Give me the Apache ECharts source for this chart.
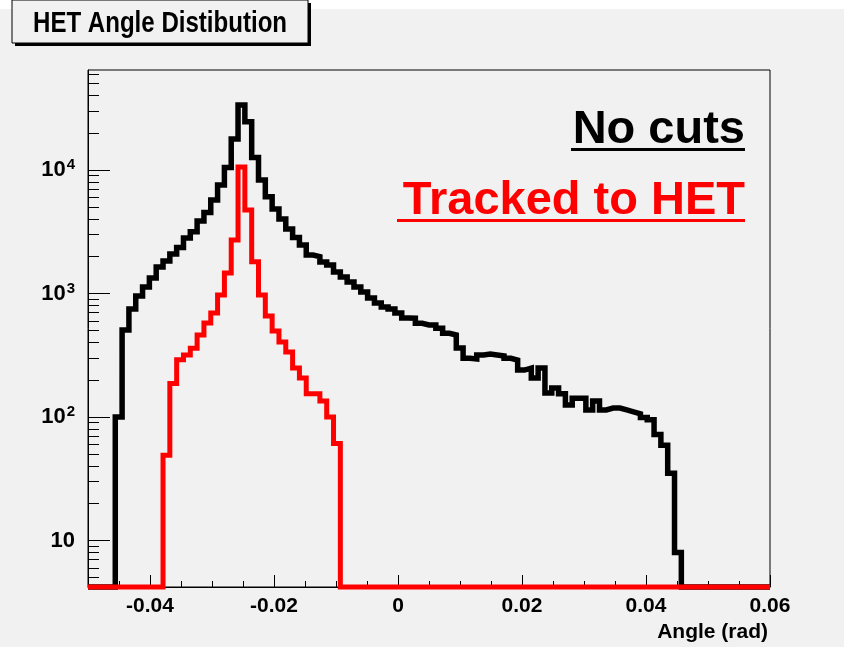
<!DOCTYPE html>
<html><head><meta charset="utf-8">
<script src="https://cdn.jsdelivr.net/npm/echarts@6/dist/echarts.min.js"></script>
<style>html,body{margin:0;padding:0;background:#fff}#c{width:844px;height:647px}</style>
</head><body><div id="c"></div><script>
// Histogram definition (ROOT-style TH1: 100 bins from -0.05 to 0.06)
const histMin = -0.05, histMax = 0.06, nBins = 100;

// "No cuts" counts, starting at bin index 4
const noCutsFirstBin = 4;
const noCutsCounts = [100, 506, 749, 954, 1129, 1335, 1639, 1833, 2088, 2358, 2814, 3166, 3864, 4528, 5717, 7560, 10477, 17820, 33600, 24600, 12620, 8300, 6078, 4832, 4011, 3329, 2840, 2470, 2050, 1986, 1799, 1701, 1493, 1360, 1239, 1129, 1028, 919, 838, 778, 749, 695, 633, 630, 574, 556, 556, 523, 476, 461, 362, 299, 295, 318, 324, 318, 312, 299, 289, 240, 249, 207, 249, 156, 172, 154, 125, 142, 142, 114, 135, 114, 118, 118, 114, 110, 106, 99, 95, 72, 59, 35, 8];

// "Tracked to HET" counts, starting at bin index 11
const trackedFirstBin = 11;
const trackedCounts = [49, 187, 290, 318, 360, 461, 577, 695, 972, 1465, 2712, 10570, 4742, 1808, 972, 658, 497, 405, 336, 249, 207, 154, 154, 135, 100, 61];

// Axis ticks and labels
const xMajorTicks = [-0.04, -0.02, 0, 0.02, 0.04, 0.06];
const xTickLabels = ['-0.04', '-0.02', '0', '0.02', '0.04', '0.06'];
const xMinorTicks = [-0.045, -0.035, -0.03, -0.025, -0.015, -0.01, -0.005, 0.005, 0.01, 0.015, 0.025, 0.03, 0.035, 0.045, 0.05, 0.055];
const yMin = 4.2, yMax = 64500;
const yMajorTicks = [10, 100, 1000, 10000];
const yTickLabels = ['{b|10}', '{b|10}{s|2}', '{b|10}{s|3}', '{b|10}{s|4}'];
const yMinorTicks = [5, 6, 7, 8, 9, 20, 30, 40, 50, 60, 70, 80, 90, 200, 300, 400, 500, 600, 700, 800, 900, 2000, 3000, 4000, 5000, 6000, 7000, 8000, 9000, 20000, 30000, 40000, 50000, 60000];

const FONT = '"Liberation Sans", Arial, sans-serif';

function histPoints(firstBin, counts) {
  const w = (histMax - histMin) / nBins;
  const pts = [];
  let last = yMin;
  for (let k = 0; k < nBins; k++) {
    const i = k - firstBin;
    const v = (i >= 0 && i < counts.length) ? counts[i] : yMin; // empty bins drawn on the frame floor
    pts.push([histMin + k * w, v]);
    last = v;
  }
  pts.push([histMax, last]);
  return pts;
}

function pickLabel(ticks, labels, v) {
  const i = ticks.findIndex(t => Math.abs(t - v) < 1e-9 * Math.max(1, Math.abs(t)));
  return i >= 0 ? labels[i] : '';
}

const chart = echarts.init(document.getElementById('c'), null, {renderer: 'canvas'});
chart.setOption({
  animation: false,
  backgroundColor: '#f1f1f1',
  grid: {left: 88, top: 70, width: 682, height: 517, show: true, borderColor: '#000', borderWidth: 1, backgroundColor: 'transparent'},
  xAxis: [
    {
      type: 'value', min: histMin, max: histMax, position: 'bottom',
      axisLine: {show: true, onZero: false, lineStyle: {color: '#000', width: 1}},
      axisTick: {show: true, inside: true, length: 12, customValues: xMajorTicks, lineStyle: {color: '#000', width: 1}},
      axisLabel: {show: true, customValues: xMajorTicks, margin: 9, color: '#000', fontSize: 21, fontWeight: 'bold', fontFamily: FONT,
        formatter: v => pickLabel(xMajorTicks, xTickLabels, v)},
      splitLine: {show: false}
    },
    {
      type: 'value', min: histMin, max: histMax, position: 'bottom',
      axisLine: {show: false, onZero: false},
      axisTick: {show: true, inside: true, length: 6, customValues: xMinorTicks, lineStyle: {color: '#000', width: 1}},
      axisLabel: {show: false},
      splitLine: {show: false}
    }
  ],
  yAxis: [
    {
      type: 'log', logBase: 10, min: yMin, max: yMax, position: 'left',
      axisLine: {show: true, onZero: false, lineStyle: {color: '#000', width: 1}},
      axisTick: {show: true, inside: true, length: 22, customValues: yMajorTicks, lineStyle: {color: '#000', width: 1}},
      axisLabel: {show: true, customValues: yMajorTicks, margin: 13, color: '#000', fontFamily: FONT,
        formatter: v => pickLabel(yMajorTicks, yTickLabels, v),
        rich: {
          b: {fontSize: 22, fontWeight: 'bold', fontFamily: FONT, color: '#000'},
          s: {fontSize: 15, fontWeight: 'bold', fontFamily: FONT, color: '#000', verticalAlign: 'top', padding: [0, 0, 10, 1]}
        }},
      splitLine: {show: false}
    },
    {
      type: 'log', logBase: 10, min: yMin, max: yMax, position: 'left',
      axisLine: {show: false, onZero: false},
      axisTick: {show: true, inside: true, length: 11, customValues: yMinorTicks, lineStyle: {color: '#000', width: 1}},
      axisLabel: {show: false},
      splitLine: {show: false}
    }
  ],
  series: [
    {
      name: 'No cuts', type: 'line', xAxisIndex: 0, yAxisIndex: 0, step: 'end', showSymbol: false, symbol: 'none', clip: false,
      lineStyle: {color: '#000', width: 5.5, join: 'miter', cap: 'butt'},
      data: histPoints(noCutsFirstBin, noCutsCounts)
    },
    {
      name: 'Tracked to HET', type: 'line', xAxisIndex: 0, yAxisIndex: 0, step: 'end', showSymbol: false, symbol: 'none', clip: false,
      lineStyle: {color: '#ff0000', width: 5, join: 'miter', cap: 'butt'},
      data: histPoints(trackedFirstBin, trackedCounts)
    }
  ],
  graphic: [
    {type: 'rect', shape: {x: 0, y: 0, width: 844, height: 9}, style: {fill: '#ffffff'}, z: 9},
    {type: 'rect', shape: {x: 12, y: 0, width: 296, height: 43}, style: {fill: '#f1f1f1', stroke: '#000', lineWidth: 1}, z: 10},
    {type: 'rect', shape: {x: 15, y: 43, width: 296, height: 3}, style: {fill: '#000'}, z: 10},
    {type: 'rect', shape: {x: 308, y: 3, width: 3, height: 43}, style: {fill: '#000'}, z: 10},
    {type: 'text', x: 33, y: 24, scaleX: 0.83, style: {text: 'HET Angle Distibution', fill: '#000', font: 'bold 29px ' + FONT, textAlign: 'left', textVerticalAlign: 'middle'}, z: 11},
    {type: 'text', x: 745, y: 130, style: {text: 'No cuts', fill: '#000', font: 'bold 47px ' + FONT, textAlign: 'right', textVerticalAlign: 'middle'}, z: 11},
    {type: 'rect', shape: {x: 571, y: 148, width: 174, height: 3}, style: {fill: '#000'}, z: 11},
    {type: 'text', x: 745, y: 201, style: {text: 'Tracked to HET', fill: '#ff0000', font: 'bold 47px ' + FONT, textAlign: 'right', textVerticalAlign: 'middle'}, z: 11},
    {type: 'rect', shape: {x: 397, y: 219, width: 348, height: 3}, style: {fill: '#ff0000'}, z: 11},
    {type: 'text', x: 768, y: 632, style: {text: 'Angle (rad)', fill: '#000', font: 'bold 21px ' + FONT, textAlign: 'right', textVerticalAlign: 'middle'}, z: 11}
  ]
});
</script></body></html>
